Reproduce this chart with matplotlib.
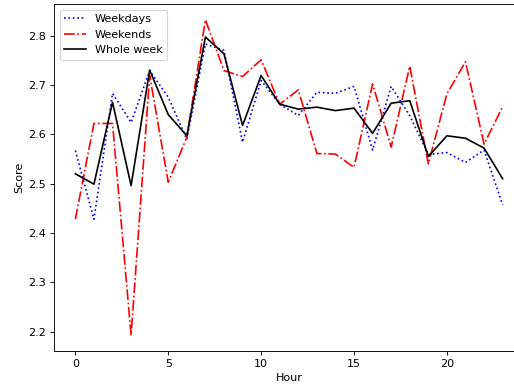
import matplotlib
matplotlib.use("Agg")
import matplotlib.pyplot as plt

hours = list(range(24))
weekdays = [2.567, 2.428, 2.683, 2.624, 2.729, 2.675, 2.590, 2.783, 2.770, 2.584,
            2.709, 2.661, 2.638, 2.685, 2.683, 2.697, 2.568, 2.697, 2.638, 2.559,
            2.563, 2.543, 2.568, 2.457]
weekends = [2.428, 2.622, 2.622, 2.193, 2.719, 2.503, 2.594, 2.832, 2.729, 2.717,
            2.751, 2.661, 2.690, 2.561, 2.560, 2.533, 2.702, 2.574, 2.738, 2.540,
            2.682, 2.747, 2.580, 2.656]
whole = [2.520, 2.499, 2.665, 2.496, 2.730, 2.640, 2.597, 2.797, 2.763, 2.618,
         2.719, 2.661, 2.651, 2.655, 2.648, 2.653, 2.602, 2.663, 2.668, 2.555,
         2.597, 2.592, 2.572, 2.510]

fig = plt.figure(figsize=(514/80, 385/80), dpi=80)
ax = fig.add_axes([54/514, 34/385, 470/514, 347/385])
ax.plot(hours, weekdays, ':', color='blue', label='Weekdays')
ax.plot(hours, weekends, '-.', color='red', label='Weekends')
ax.plot(hours, whole, '-', color='black', label='Whole week')
ax.set_xlabel('Hour')
ax.set_ylabel('Score')
ax.legend(loc='upper left')
fig.savefig('out.png', dpi=80)
